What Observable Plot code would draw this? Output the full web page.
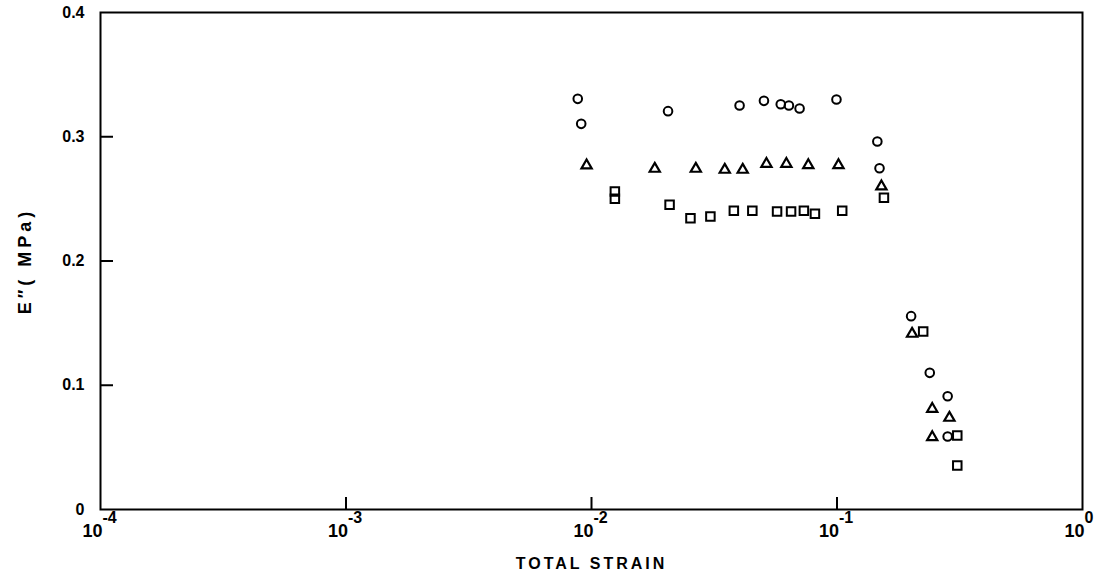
<!DOCTYPE html>
<html>
<head>
<meta charset="utf-8">
<script src="https://cdn.jsdelivr.net/npm/d3@7"></script>
<script src="https://cdn.jsdelivr.net/npm/@observablehq/plot@0.6"></script>
<style>
  html, body { margin: 0; padding: 0; background: #fff; }
  #chart svg { font-family: "Liberation Sans", Arial, sans-serif; font-weight: bold; }
</style>
</head>
<body>
<div id="chart"></div>
<script>
// Circle series
const circleStrain = [0.00879, 0.00908, 0.0205, 0.0401, 0.0504, 0.0590, 0.0637, 0.0704, 0.0995, 0.146, 0.149, 0.2004, 0.2387, 0.2823, 0.2823];
const circleE      = [0.3305, 0.3104, 0.3206, 0.3252, 0.3289, 0.3262, 0.3252, 0.3227, 0.330, 0.2962, 0.2747, 0.1556, 0.110, 0.0912, 0.0588];
// Triangle series
const triangleStrain = [0.00955, 0.0181, 0.0266, 0.0349, 0.0413, 0.0516, 0.0622, 0.0764, 0.1014, 0.1517, 0.2022, 0.2443, 0.287, 0.2443];
const triangleE      = [0.2769, 0.2742, 0.2742, 0.2734, 0.2734, 0.2782, 0.2782, 0.2771, 0.2771, 0.260, 0.1414, 0.081, 0.0738, 0.0582];
// Square series
const squareStrain = [0.01245, 0.01245, 0.0208, 0.0253, 0.0305, 0.0380, 0.0452, 0.0570, 0.0650, 0.0733, 0.0813, 0.1050, 0.1553, 0.2244, 0.309, 0.309];
const squareE      = [0.2559, 0.2501, 0.2452, 0.2344, 0.2358, 0.2404, 0.2404, 0.2398, 0.2398, 0.2404, 0.238, 0.2404, 0.2509, 0.1433, 0.0596, 0.0354];

// Axes
const xDecades = [1e-4, 1e-3, 1e-2, 1e-1, 1];
const xExponents = ["-4", "-3", "-2", "-1", "0"];
const xInnerTicks = [1e-3, 1e-2, 1e-1];
const yTicks = [0, 0.1, 0.2, 0.3, 0.4];
const yInnerTicks = [0.1, 0.2, 0.3];
const xLabel = "TOTAL STRAIN";
const yLabel = "E″( MPa)";

const toRows = (xs, ys) => xs.map((x, i) => ({x, y: ys[i]}));
const circles = toRows(circleStrain, circleE);
const triangles = toRows(triangleStrain, triangleE);
const squares = toRows(squareStrain, squareE);
const decadeRows = xDecades.map((d, i) => ({d, e: xExponents[i]}));

const chart = Plot.plot({
  width: 1099,
  height: 584,
  marginLeft: 100,
  marginRight: 17,
  marginTop: 12,
  marginBottom: 75,
  style: {fontFamily: "Liberation Sans, Arial, sans-serif", fontSize: "16px", color: "black", background: "white"},
  x: {type: "log", domain: [1e-4, 1]},
  y: {domain: [0, 0.4]},
  marks: [
    Plot.frame({stroke: "black", strokeWidth: 2}),
    // y tick labels
    Plot.axisY({ticks: yTicks, tickSize: 0, tickPadding: 16, fontSize: 16,
      tickFormat: d => d === 0 ? "0" : d.toFixed(1), label: null}),
    // inward y ticks
    Plot.axisY({ticks: yInnerTicks, tickSize: 13, dx: 13, strokeWidth: 2,
      tickFormat: () => "", label: null}),
    // inward x ticks
    Plot.axisX({ticks: xInnerTicks, tickSize: 12, dy: -12, strokeWidth: 2,
      tickFormat: () => "", label: null}),
    // x tick labels: "10" with superscript exponent
    Plot.text(decadeRows, {x: "d", text: () => "10", frameAnchor: "bottom",
      dy: 27, dx: -8, fontSize: 18, textAnchor: "middle"}),
    Plot.text(decadeRows, {x: "d", text: "e", frameAnchor: "bottom",
      dy: 13, dx: 2, fontSize: 16, textAnchor: "start"}),
    // axis titles
    Plot.text([xLabel], {text: d => d, frameAnchor: "bottom", dy: 59, fontSize: 16, textAnchor: "middle"}),
    Plot.text([yLabel], {text: d => d, frameAnchor: "left", dx: -75, rotate: -90, fontSize: 18, textAnchor: "middle"}),
    // data
    Plot.dot(circles, {x: "x", y: "y", symbol: "circle", r: 4.3, stroke: "black", strokeWidth: 2, fill: "none"}),
    Plot.dot(triangles, {x: "x", y: "y", symbol: "triangle", r: 3.8, stroke: "black", strokeWidth: 2.2, fill: "none"}),
    Plot.dot(squares, {x: "x", y: "y", symbol: "square", r: 4.8, stroke: "black", strokeWidth: 2, fill: "none"})
  ]
});
document.getElementById("chart").appendChild(chart);
// letter spacing for axis titles
d3.select(chart).selectAll("text")
  .filter(function() { return this.textContent === xLabel; })
  .style("letter-spacing", "3px");
d3.select(chart).selectAll("text")
  .filter(function() { return this.textContent === yLabel; })
  .style("letter-spacing", "4px");
</script>
</body>
</html>
